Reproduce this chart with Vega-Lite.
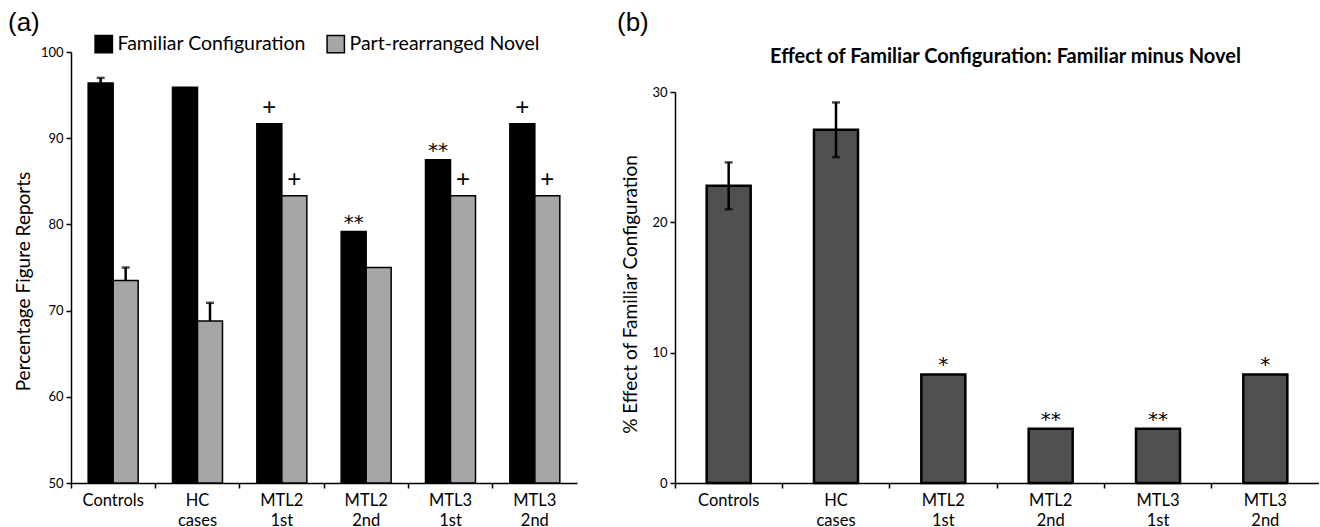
{
  "$schema": "https://vega.github.io/schema/vega-lite/v6.json",
  "background": "white",
  "padding": {"left": 8, "top": 10, "right": 0, "bottom": 0},
  "config": {
    "view": {"stroke": null},
    "font": "Lato",
    "axis": {"domainColor": "black", "tickColor": "black", "labelColor": "black", "titleColor": "black", "labelFont": "Lato", "titleFont": "Lato", "titleFontWeight": "normal", "grid": false, "domainWidth": 1.5, "tickWidth": 1.5}
  },
  "spacing": 40,
  "hconcat": [
    {
      "width": 506,
      "height": 431,
      "title": {"text": "(a)", "anchor": "start", "frame": "group", "font": "Liberation Sans", "fontSize": 26, "fontWeight": "normal", "color": "black", "dx": -63, "offset": 10},
      "data": {"values": [
        {"group": "Controls", "condition": "Familiar Configuration", "value": 96.4, "hi": 97.0, "sig": ""},
        {"group": "Controls", "condition": "Part-rearranged Novel", "value": 73.5, "hi": 75.0, "sig": ""},
        {"group": "HC cases", "condition": "Familiar Configuration", "value": 95.9, "hi": null, "sig": ""},
        {"group": "HC cases", "condition": "Part-rearranged Novel", "value": 68.8, "hi": 70.9, "sig": ""},
        {"group": "MTL2 1st", "condition": "Familiar Configuration", "value": 91.67, "hi": null, "sig": "+"},
        {"group": "MTL2 1st", "condition": "Part-rearranged Novel", "value": 83.33, "hi": null, "sig": "+"},
        {"group": "MTL2 2nd", "condition": "Familiar Configuration", "value": 79.17, "hi": null, "sig": "**"},
        {"group": "MTL2 2nd", "condition": "Part-rearranged Novel", "value": 75.0, "hi": null, "sig": ""},
        {"group": "MTL3 1st", "condition": "Familiar Configuration", "value": 87.5, "hi": null, "sig": "**"},
        {"group": "MTL3 1st", "condition": "Part-rearranged Novel", "value": 83.33, "hi": null, "sig": "+"},
        {"group": "MTL3 2nd", "condition": "Familiar Configuration", "value": 91.67, "hi": null, "sig": "+"},
        {"group": "MTL3 2nd", "condition": "Part-rearranged Novel", "value": 83.33, "hi": null, "sig": "+"}
      ]},
      "encoding": {
        "x": {"field": "group", "type": "nominal", "sort": ["Controls", "HC cases", "MTL2 1st", "MTL2 2nd", "MTL3 1st", "MTL3 2nd"],
          "scale": {"paddingInner": 0, "paddingOuter": 0},
          "axis": {"title": null, "bandPosition": 0, "labelAngle": 0, "labelExpr": "split(datum.label, ' ')", "labelFontSize": 16.5, "labelLineHeight": 20, "tickSize": 5, "labelPadding": 4}},
        "xOffset": {"field": "condition", "type": "nominal", "sort": ["Familiar Configuration", "Part-rearranged Novel"], "scale": {"paddingInner": 0, "paddingOuter": 0.687}}
      },
      "layer": [
        {
          "mark": {"type": "bar", "stroke": "black", "strokeWidth": 1.5},
          "encoding": {
            "y": {"field": "value", "type": "quantitative", "scale": {"domain": [50, 100], "zero": false},
              "axis": {"title": "Percentage Figure Reports", "values": [50, 60, 70, 80, 90, 100], "tickSize": 5, "labelFontSize": 13, "titleFontSize": 19, "titleAngle": -90, "titleBaseline": "middle", "titleAlign": "center", "titleX": -48, "titleY": 229, "labelPadding": 3}},
            "y2": {"datum": 50},
            "fill": {"field": "condition", "type": "nominal", "scale": {"domain": ["Familiar Configuration", "Part-rearranged Novel"], "range": ["#000000", "#a6a6a6"]},
              "legend": {"orient": "none", "legendX": 23, "legendY": -18, "direction": "horizontal", "title": null, "symbolType": "square", "symbolSize": 300, "symbolStrokeColor": "black", "symbolStrokeWidth": 1.5, "labelFontSize": 19.5, "labelColor": "black", "labelFont": "Lato", "labelLimit": 0, "columnPadding": 18, "labelOffset": 4}}
          }
        },
        {
          "transform": [{"filter": "datum.hi != null"}],
          "mark": {"type": "rule", "strokeWidth": 2.5, "color": "black"},
          "encoding": {"y": {"field": "value", "type": "quantitative"}, "y2": {"field": "hi"}}
        },
        {
          "transform": [{"filter": "datum.hi != null"}],
          "mark": {"type": "tick", "thickness": 2.5, "size": 8, "color": "black"},
          "encoding": {"y": {"field": "hi", "type": "quantitative"}}
        },
        {
          "transform": [{"filter": "datum.sig == '+'"}],
          "mark": {"type": "text", "fontSize": 24, "font": "Liberation Sans", "baseline": "alphabetic", "dy": -9, "color": "black"},
          "encoding": {"y": {"field": "value", "type": "quantitative"}, "text": {"field": "sig"}}
        },
        {
          "transform": [{"filter": "datum.sig == '**'"}],
          "mark": {"type": "text", "fontSize": 20, "font": "DejaVu Sans", "baseline": "alphabetic", "dy": -3, "color": "black"},
          "encoding": {"y": {"field": "value", "type": "quantitative"}, "text": {"field": "sig"}}
        }
      ]
    },
    {
      "width": 644,
      "height": 431,
      "title": {"text": "(b)", "anchor": "start", "frame": "group", "font": "Liberation Sans", "fontSize": 26, "fontWeight": "normal", "color": "black", "dx": -58, "offset": 10},
      "data": {"values": [
        {"group": "Controls", "value": 22.8, "lo": 21.0, "hi": 24.6, "sig": ""},
        {"group": "HC cases", "value": 27.1, "lo": 25.0, "hi": 29.2, "sig": ""},
        {"group": "MTL2 1st", "value": 8.33, "lo": null, "hi": null, "sig": "*"},
        {"group": "MTL2 2nd", "value": 4.17, "lo": null, "hi": null, "sig": "**"},
        {"group": "MTL3 1st", "value": 4.17, "lo": null, "hi": null, "sig": "**"},
        {"group": "MTL3 2nd", "value": 8.33, "lo": null, "hi": null, "sig": "*"}
      ]},
      "resolve": {"axis": {"x": "independent"}},
      "layer": [
        {
          "mark": {"type": "bar", "fill": "#505050", "stroke": "black", "strokeWidth": 2.5, "width": {"band": 0.41}},
          "encoding": {
            "x": {"field": "group", "type": "nominal", "sort": ["Controls", "HC cases", "MTL2 1st", "MTL2 2nd", "MTL3 1st", "MTL3 2nd"],
              "scale": {"paddingInner": 0, "paddingOuter": 0},
              "axis": {"title": null, "bandPosition": 0, "labelAngle": 0, "labelExpr": "split(datum.label, ' ')", "labelFontSize": 16.5, "labelLineHeight": 20, "tickSize": 5, "labelPadding": 4}},
            "y": {"field": "value", "type": "quantitative", "scale": {"domain": [0, 30], "range": [431, 40]},
              "axis": {"title": "% Effect of Familiar Configuration", "values": [0, 10, 20, 30], "tickSize": 5, "labelFontSize": 13, "titleFontSize": 19, "titleAngle": -90, "titleBaseline": "middle", "titleAlign": "center", "titleX": -45, "titleY": 242, "labelPadding": 3}}
          }
        },
        {
          "transform": [{"filter": "datum.hi != null"}],
          "mark": {"type": "rule", "strokeWidth": 2.5, "color": "black"},
          "encoding": {
            "x": {"field": "group", "type": "nominal", "sort": ["Controls", "HC cases", "MTL2 1st", "MTL2 2nd", "MTL3 1st", "MTL3 2nd"], "axis": null},
            "y": {"field": "lo", "type": "quantitative"}, "y2": {"field": "hi"}}
        },
        {
          "transform": [{"filter": "datum.hi != null"}],
          "mark": {"type": "tick", "thickness": 2.5, "size": 8, "color": "black"},
          "encoding": {
            "x": {"field": "group", "type": "nominal", "sort": ["Controls", "HC cases", "MTL2 1st", "MTL2 2nd", "MTL3 1st", "MTL3 2nd"], "axis": null},
            "y": {"field": "hi", "type": "quantitative"}}
        },
        {
          "transform": [{"filter": "datum.lo != null"}],
          "mark": {"type": "tick", "thickness": 2.5, "size": 8, "color": "black"},
          "encoding": {
            "x": {"field": "group", "type": "nominal", "sort": ["Controls", "HC cases", "MTL2 1st", "MTL2 2nd", "MTL3 1st", "MTL3 2nd"], "axis": null},
            "y": {"field": "lo", "type": "quantitative"}}
        },
        {
          "mark": {"type": "text", "fontSize": 20, "font": "DejaVu Sans", "baseline": "alphabetic", "dy": -3, "color": "black"},
          "encoding": {
            "x": {"field": "group", "type": "nominal", "sort": ["Controls", "HC cases", "MTL2 1st", "MTL2 2nd", "MTL3 1st", "MTL3 2nd"],
              "axis": {"orient": "top", "labels": false, "ticks": false, "domain": false, "title": "Effect of Familiar Configuration: Familiar minus Novel", "titleFontSize": 20, "titleFontWeight": "bold", "titleFont": "Lato", "titleBaseline": "middle", "titleAlign": "center", "titleX": 330, "titleY": 4}},
            "y": {"field": "value", "type": "quantitative"},
            "text": {"field": "sig"}}
        }
      ]
    }
  ]
}
